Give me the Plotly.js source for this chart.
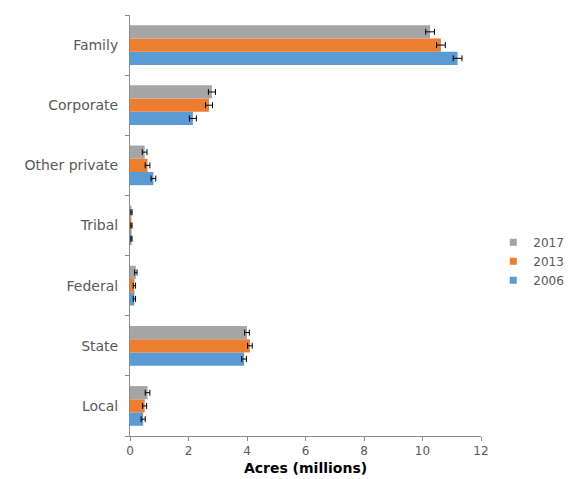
<!DOCTYPE html>
<html>
<head>
<meta charset="utf-8">
<script src="https://cdn.plot.ly/plotly-3.0.1.min.js"></script>
<style>html,body{margin:0;padding:0;background:#fff;}#chart{width:583px;height:479px;}</style>
</head>
<body>
<div id="chart"></div>
<script>
var categories = ["Family", "Corporate", "Other private", "Tribal", "Federal", "State", "Local"];
var seriesNames = ["2017", "2013", "2006"];
var values2017 = [10.26, 2.8, 0.5, 0.05, 0.2, 4.0, 0.6];
var values2013 = [10.63, 2.7, 0.6, 0.05, 0.15, 4.1, 0.5];
var values2006 = [11.2, 2.15, 0.8, 0.05, 0.15, 3.9, 0.45];
var err2017 = [0.15, 0.12, 0.08, 0.02, 0.04, 0.08, 0.08];
var err2013 = [0.15, 0.12, 0.08, 0.02, 0.04, 0.08, 0.07];
var err2006 = [0.15, 0.12, 0.08, 0.02, 0.04, 0.08, 0.07];
var colors = {"2017": "#A5A5A5", "2013": "#ED7D31", "2006": "#5B9BD5"};

function mk(name, vals, errs) {
  return {
    type: "bar", orientation: "h", name: name, showlegend: false,
    y: categories, x: vals,
    marker: {color: colors[name]},
    error_x: {type: "data", array: errs, visible: true, color: "#000", thickness: 1, width: 3}
  };
}
function leg(name) {
  return {type: "scatter", mode: "markers", name: name, x: [null], y: [null],
          marker: {symbol: "square", size: 7, color: colors[name]}, showlegend: true};
}
var data = [mk("2006", values2006, err2006), mk("2013", values2013, err2013), mk("2017", values2017, err2017)];
seriesNames.forEach(function(n){ data.push(leg(n)); });

var layout = {
  width: 583, height: 479,
  margin: {l: 130, r: 102, t: 15, b: 43},
  paper_bgcolor: "#fff", plot_bgcolor: "#fff",
  font: {family: "DejaVu Sans, sans-serif", size: 12, color: "#595959"},
  barmode: "group", bargap: 0.34, bargroupgap: 0,
  showlegend: true,
  legend: {x: 1.035, y: 0.415, xanchor: "left", yanchor: "middle", traceorder: "normal",
           font: {size: 12, color: "#595959"}, itemwidth: 30, tracegroupgap: 0, bgcolor: "rgba(0,0,0,0)"},
  xaxis: {range: [0, 12], dtick: 2, showline: true, linecolor: "#8c8c8c", linewidth: 1,
          ticks: "outside", ticklen: 4, tickcolor: "#8c8c8c", showgrid: false, zeroline: false,
          title: {text: "<b>Acres (millions)</b>", font: {size: 14, color: "#000"}, standoff: 5}},
  yaxis: {type: "category", categoryorder: "array", categoryarray: categories.slice().reverse(),
          showline: true, linecolor: "#8c8c8c", linewidth: 1, ticks: "outside", tickson: "boundaries",
          ticklen: 4, tickcolor: "#8c8c8c", showgrid: false, zeroline: false,
          tickfont: {size: 14, color: "#595959"}, ticklabelstandoff: 8}
};
Plotly.newPlot("chart", data, layout, {displayModeBar: false, staticPlot: true});
</script>
</body>
</html>
